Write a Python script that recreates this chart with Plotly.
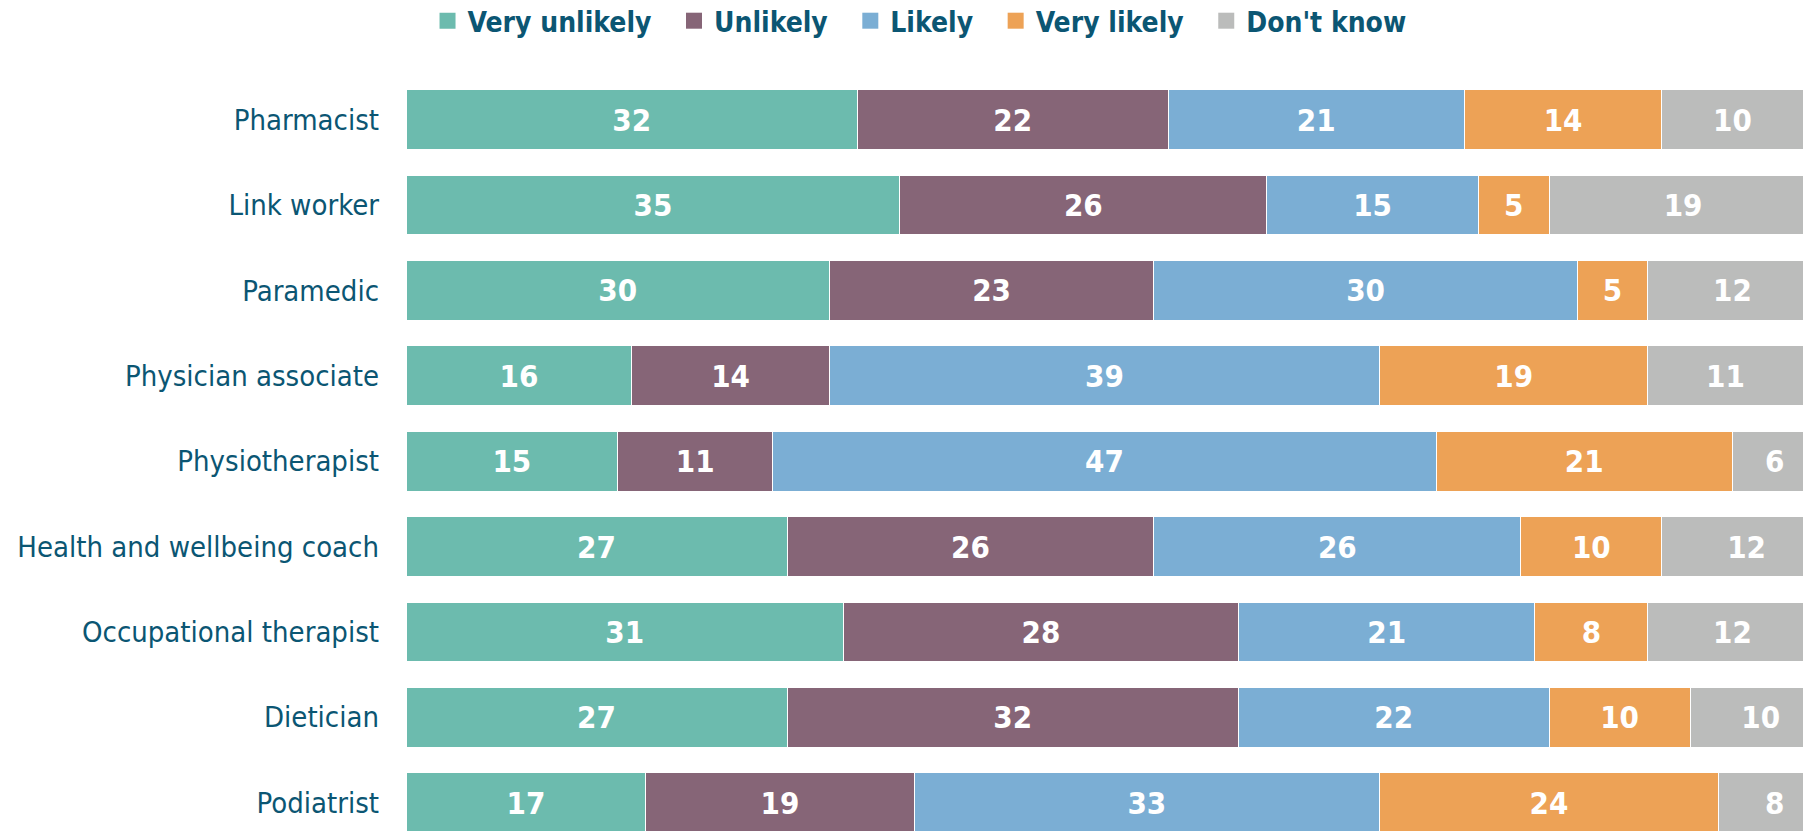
import plotly.graph_objects as go

# Survey responses (%) per professional role
roles = [
    "Pharmacist",
    "Link worker",
    "Paramedic",
    "Physician associate",
    "Physiotherapist",
    "Health and wellbeing coach",
    "Occupational therapist",
    "Dietician",
    "Podiatrist",
]

responses = ["Very unlikely", "Unlikely", "Likely", "Very likely", "Don't know"]

very_unlikely = [32, 35, 30, 16, 15, 27, 31, 27, 17]
unlikely = [22, 26, 23, 14, 11, 26, 28, 32, 19]
likely = [21, 15, 30, 39, 47, 26, 21, 22, 33]
very_likely = [14, 5, 5, 19, 21, 10, 8, 10, 24]
dont_know = [10, 19, 12, 11, 6, 12, 12, 10, 8]

series = [very_unlikely, unlikely, likely, very_likely, dont_know]
colors = ["#6CBBAE", "#866577", "#7BAED4", "#EDA256", "#BBBCBB"]

LABEL_COLOR = "#0B5673"
FONT = "DejaVu Sans Condensed, DejaVu Sans, sans-serif"
NBSP = "\u00a0"

fig = go.Figure()

# stacked bars, one trace per response option
for name, vals, col in zip(responses, series, colors):
    fig.add_trace(
        go.Bar(
            name=name,
            y=roles,
            x=vals,
            orientation="h",
            marker=dict(color=col, line=dict(color="#FFFFFF", width=1)),
            text=vals,
            texttemplate="%{text}",
            textposition="inside",
            insidetextanchor="middle",
            insidetextfont=dict(family=FONT, size=31, color="white", weight="bold"),
            cliponaxis=True,
            hoverinfo="skip",
            showlegend=False,
            legendgroup=name,
        )
    )

# legend keys with larger square swatches
for i, (name, col) in enumerate(zip(responses, colors)):
    label = name if i == len(responses) - 1 else name + NBSP * 2
    fig.add_trace(
        go.Scatter(
            x=[None],
            y=[None],
            mode="markers",
            name=label,
            marker=dict(symbol="square", size=16, color=col, line=dict(width=0)),
            legendgroup=name,
            hoverinfo="skip",
        )
    )

fig.update_layout(
    barmode="stack",
    bargap=0.30,
    width=1803,
    height=831,
    margin=dict(l=406, r=0, t=62, b=0, pad=0),
    plot_bgcolor="white",
    paper_bgcolor="white",
    font=dict(family=FONT, color=LABEL_COLOR),
    legend=dict(
        orientation="h",
        xref="container",
        yref="container",
        x=0.510,
        xanchor="center",
        y=1 - 21 / 831,
        yanchor="middle",
        font=dict(family=FONT, size=28, color=LABEL_COLOR, weight="bold"),
        traceorder="normal",
        itemclick=False,
        itemdoubleclick=False,
    ),
)

fig.update_xaxes(
    range=[0, 99],
    showgrid=False,
    zeroline=False,
    showticklabels=False,
    showline=False,
)
fig.update_yaxes(
    categoryorder="array",
    categoryarray=roles,
    range=[8.331, -0.674],
    showgrid=False,
    zeroline=False,
    showline=False,
    ticks="",
    ticklabelstandoff=26,
    tickfont=dict(family=FONT, size=29, color=LABEL_COLOR),
)

fig.write_html("out.html")
